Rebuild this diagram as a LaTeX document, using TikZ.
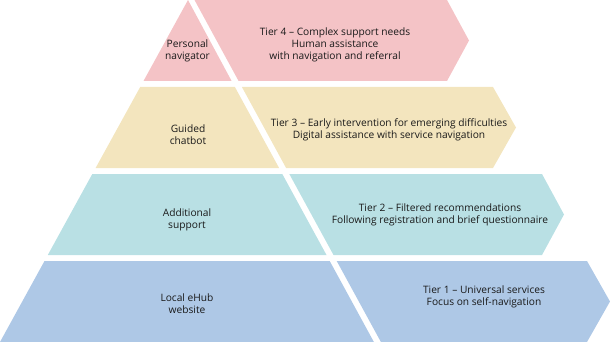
\documentclass[tikz,border=0pt]{standalone}
\usepackage{fontspec}
\setmainfont{Open Sans}
\definecolor{tierfour}{HTML}{F4C3C6}
\definecolor{tierthree}{HTML}{F3E5BE}
\definecolor{tiertwo}{HTML}{B9E0E4}
\definecolor{tierone}{HTML}{AEC8E6}
\definecolor{labeltext}{HTML}{1A1A1A}
\begin{document}
\begin{tikzpicture}[x=1pt, y=-1pt,
    label/.style={align=center, inner sep=0pt, text=labeltext,
      font=\fontsize{10.2}{12}\selectfont}]
        \useasboundingbox (0,0) rectangle (610,342);

        % Tier 4
        \fill[tierfour] (188,0) -- (231.6,81) -- (143.5,81) -- cycle;
        \fill[tierfour] (194.5,0) -- (447,0) -- (469,40.5) -- (447,81) -- (238.6,81) -- cycle;
        \node[label] (navigator) at (187.5,51) {Personal\\navigator};
        \node[label] (tierfourtext) at (335,44.5) {Tier 4 -- Complex support needs\\Human assistance\\with navigation and referral};

        % Tier 3
        \fill[tierthree] (140.2,87) -- (234.9,87) -- (279.1,168) -- (95.6,168) -- cycle;
        \fill[tierthree] (241.9,87) -- (493,87) -- (516,127.5) -- (493,168) -- (286.1,168) -- cycle;
        \node[label] (chatbot) at (188,135) {Guided\\chatbot};
        \node[label] (tierthreetext) at (389,130) {Tier 3 -- Early intervention for emerging difficulties\\Digital assistance with service navigation};

        % Tier 2
        \fill[tiertwo] (92.3,174) -- (282.3,174) -- (326.5,255) -- (47.8,255) -- cycle;
        \fill[tiertwo] (289.3,174) -- (542,174) -- (564,214.5) -- (542,255) -- (333.5,255) -- cycle;
        \node[label] (support) at (187,220) {Additional\\support};
        \node[label] (tiertwotext) at (440,215) {Tier 2 -- Filtered recommendations\\Following registration and brief questionnaire};

        % Tier 1
        \fill[tierone] (44.5,261) -- (329.7,261) -- (373.9,342) -- (0,342) -- cycle;
        \fill[tierone] (336.7,261) -- (587,261) -- (610,301.5) -- (587,342) -- (380.9,342) -- cycle;
        \node[label] (website) at (187,304) {Local eHub\\website};
        \node[label] (tieronetext) at (484,297) {Tier 1 -- Universal services\\Focus on self-navigation};
\end{tikzpicture}
\end{document}
